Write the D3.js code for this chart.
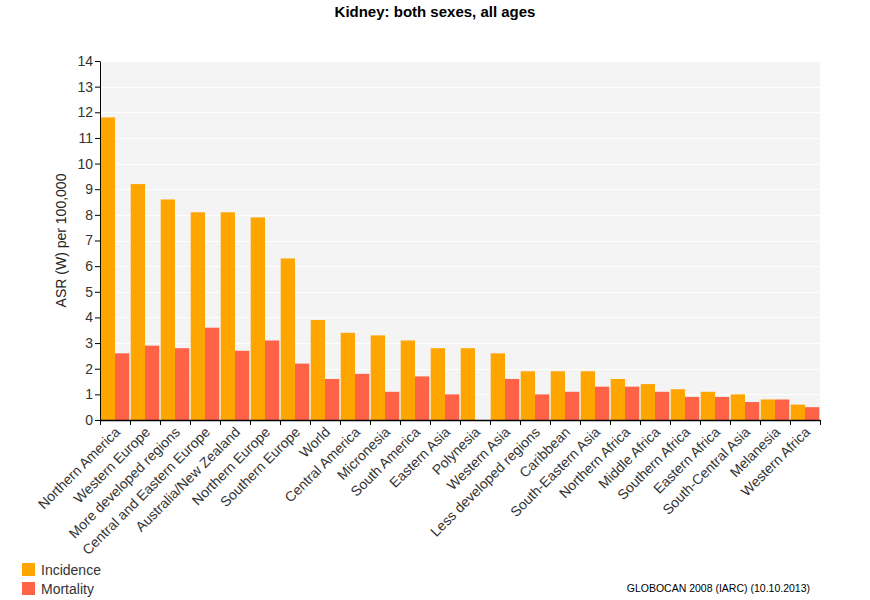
<!DOCTYPE html>
<html><head><meta charset="utf-8">
<script src="https://cdn.jsdelivr.net/npm/d3@7"></script>
<style>body{margin:0;background:#fff;}svg{display:block;font-family:Arial,"Liberation Sans",sans-serif;}</style>
</head><body>
<svg id="chart" width="870" height="600"></svg>
<script>
const categories = ["Northern America","Western Europe","More developed regions","Central and Eastern Europe","Australia/New Zealand","Northern Europe","Southern Europe","World","Central America","Micronesia","South America","Eastern Asia","Polynesia","Western Asia","Less developed regions","Caribbean","South-Eastern Asia","Northern Africa","Middle Africa","Southern Africa","Eastern Africa","South-Central Asia","Melanesia","Western Africa"];
const incidence = [11.8,9.2,8.6,8.1,8.1,7.9,6.3,3.9,3.4,3.3,3.1,2.8,2.8,2.6,1.9,1.9,1.9,1.6,1.4,1.2,1.1,1.0,0.8,0.6];
const mortality = [2.6,2.9,2.8,3.6,2.7,3.1,2.2,1.6,1.8,1.1,1.7,1.0,0,1.6,1.0,1.1,1.3,1.3,1.1,0.9,0.9,0.7,0.8,0.5];
const yTicks = [0,1,2,3,4,5,6,7,8,9,10,11,12,13,14];
const seriesNames = ["Incidence","Mortality"];
const colors = ["#FFA500","#FF6347"];

(function(){
const svg = d3.select("#chart");
const mLeft = 100, mRight = 820, mTop = 61, mBottom = 420;

const x = d3.scaleBand().domain(categories).range([mLeft, mRight]).paddingInner(0).paddingOuter(0);
const y = d3.scaleLinear().domain([0,14]).range([mBottom, mTop]);
const sub = d3.scaleBand().domain(seriesNames).range([0, x.bandwidth()]).paddingInner(0).paddingOuter(0.05);

svg.append("rect").attr("x", mLeft).attr("y", mTop).attr("width", mRight-mLeft).attr("height", mBottom-mTop).attr("fill", "#f4f4f4");
svg.append("g").selectAll("line").data(yTicks.filter(d=>d>0)).join("line")
  .attr("x1", mLeft).attr("x2", mRight).attr("y1", d=>Math.round(y(d))+0.5).attr("y2", d=>Math.round(y(d))+0.5)
  .attr("stroke", "#ffffff").attr("stroke-width", 1);

const data = categories.map((c,i)=>({c, vals:[incidence[i], mortality[i]]}));
const g = svg.append("g");
data.forEach(d=>{
  seriesNames.forEach((s,k)=>{
    if (d.vals[k] > 0) {
      g.append("rect")
        .attr("x", x(d.c) + sub(s))
        .attr("y", y(d.vals[k]))
        .attr("width", sub.bandwidth())
        .attr("height", y(0) - y(d.vals[k]))
        .attr("fill", colors[k]);
    }
  });
});

const yAxis = svg.append("g").attr("transform", `translate(${mLeft},0)`)
  .call(d3.axisLeft(y).tickValues(yTicks).tickFormat(d3.format("d")).tickSize(5).tickSizeOuter(0));
yAxis.select(".domain").attr("stroke", "#000");
yAxis.selectAll(".tick line").attr("stroke", "#000");
yAxis.selectAll(".tick text").attr("font-size", 14).attr("fill", "#333").attr("font-family", "Arial, 'Liberation Sans', sans-serif").attr("x", -7);

const xAxis = svg.append("g").attr("transform", `translate(0,${mBottom})`)
  .call(d3.axisBottom(x).tickSize(0).tickSizeOuter(0));
xAxis.select(".domain").attr("stroke", "#000").attr("stroke-width", 1.5);
const bounds = categories.map(c=>x(c)).concat([mRight]);
xAxis.append("g").selectAll("line").data(bounds).join("line")
  .attr("x1", d=>d+0.5).attr("x2", d=>d+0.5).attr("y1", 0).attr("y2", 5).attr("stroke", "#000");
xAxis.selectAll(".tick text")
  .attr("font-size", 14).attr("fill", "#333").attr("font-family", "Arial, 'Liberation Sans', sans-serif")
  .attr("text-anchor", "end")
  .attr("transform", "translate(-1,6) rotate(-45)")
  .attr("x", 0).attr("y", 0).attr("dy", "0.7em");

svg.append("text").attr("transform", `translate(66,${(mTop+mBottom)/2}) rotate(-90)`)
  .attr("text-anchor", "middle").attr("font-size", 14).attr("fill", "#222").text("ASR (W) per 100,000");

svg.append("text").attr("x", 435).attr("y", 17).attr("text-anchor", "middle")
  .attr("font-size", 15).attr("font-weight", "bold").attr("fill", "#000").text("Kidney: both sexes, all ages");

const leg = svg.append("g");
seriesNames.forEach((s,k)=>{
  const yy = 563 + k*19;
  leg.append("rect").attr("x", 22).attr("y", yy).attr("width", 13).attr("height", 13).attr("fill", colors[k]);
  leg.append("text").attr("x", 41).attr("y", yy+12).attr("font-size", 14).attr("fill", "#333").text(s);
});

svg.append("text").attr("x", 810).attr("y", 592).attr("text-anchor", "end").attr("font-size", 10.5).attr("fill", "#000")
  .text("GLOBOCAN 2008 (IARC) (10.10.2013)");
})();
</script>
</body></html>
